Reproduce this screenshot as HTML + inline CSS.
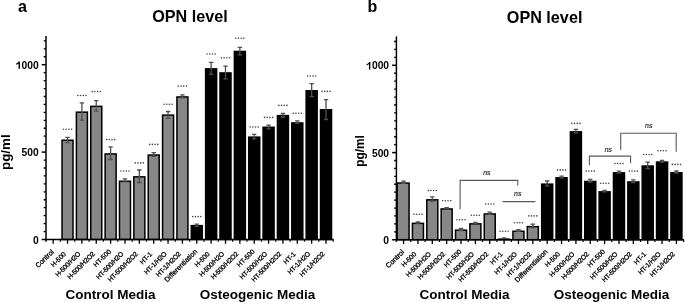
<!DOCTYPE html>
<html><head><meta charset="utf-8"><title>OPN level</title>
<style>html,body{margin:0;padding:0;background:#fff;}body{width:685px;height:302px;overflow:hidden;}
svg{display:block;will-change:transform;filter:blur(0.3px);font-family:"Liberation Sans", sans-serif;}</style></head>
<body>
<svg width="685" height="302" viewBox="0 0 685 302" font-family='"Liberation Sans", sans-serif' fill="#000">
<rect width="685" height="302" fill="#fff"/>
<rect x="62.04" y="140.25" width="11" height="99.25" fill="#878787" stroke="#000" stroke-width="1.5"/>
<path d="M67.54 137.4V142.6M65.34 137.4H69.74M65.34 142.6H69.74" stroke="#4f4f4f" stroke-width="1.3" fill="none"/>
<circle cx="63.49" cy="129.2" r="0.8" fill="#444"/>
<circle cx="66.19" cy="129.2" r="0.8" fill="#444"/>
<circle cx="68.89" cy="129.2" r="0.8" fill="#444"/>
<circle cx="71.59" cy="129.2" r="0.8" fill="#444"/>
<rect x="76.4" y="112.15" width="11" height="127.35" fill="#878787" stroke="#000" stroke-width="1.5"/>
<path d="M81.9 102.8V120.1M79.7 102.8H84.1M79.7 120.1H84.1" stroke="#4f4f4f" stroke-width="1.3" fill="none"/>
<circle cx="77.85" cy="95.5" r="0.8" fill="#444"/>
<circle cx="80.55" cy="95.5" r="0.8" fill="#444"/>
<circle cx="83.25" cy="95.5" r="0.8" fill="#444"/>
<circle cx="85.95" cy="95.5" r="0.8" fill="#444"/>
<rect x="90.76" y="106.35" width="11" height="133.15" fill="#878787" stroke="#000" stroke-width="1.5"/>
<path d="M96.26 100.7V111.1M94.06 100.7H98.46M94.06 111.1H98.46" stroke="#4f4f4f" stroke-width="1.3" fill="none"/>
<circle cx="92.21" cy="91.6" r="0.8" fill="#444"/>
<circle cx="94.91" cy="91.6" r="0.8" fill="#444"/>
<circle cx="97.61" cy="91.6" r="0.8" fill="#444"/>
<circle cx="100.31" cy="91.6" r="0.8" fill="#444"/>
<rect x="105.12" y="153.95" width="11" height="85.55" fill="#878787" stroke="#000" stroke-width="1.5"/>
<path d="M110.62 146.9V159.5M108.42 146.9H112.82M108.42 159.5H112.82" stroke="#4f4f4f" stroke-width="1.3" fill="none"/>
<circle cx="106.57" cy="139.6" r="0.8" fill="#444"/>
<circle cx="109.27" cy="139.6" r="0.8" fill="#444"/>
<circle cx="111.97" cy="139.6" r="0.8" fill="#444"/>
<circle cx="114.67" cy="139.6" r="0.8" fill="#444"/>
<rect x="119.48" y="181.25" width="11" height="58.25" fill="#878787" stroke="#000" stroke-width="1.5"/>
<path d="M124.98 178.9V181.8M122.78 178.9H127.18M122.78 181.8H127.18" stroke="#4f4f4f" stroke-width="1.3" fill="none"/>
<circle cx="120.93" cy="171" r="0.8" fill="#444"/>
<circle cx="123.63" cy="171" r="0.8" fill="#444"/>
<circle cx="126.33" cy="171" r="0.8" fill="#444"/>
<circle cx="129.03" cy="171" r="0.8" fill="#444"/>
<rect x="133.84" y="176.85" width="11" height="62.65" fill="#878787" stroke="#000" stroke-width="1.5"/>
<path d="M139.34 170V182.5M137.14 170H141.54M137.14 182.5H141.54" stroke="#4f4f4f" stroke-width="1.3" fill="none"/>
<circle cx="135.29" cy="162.9" r="0.8" fill="#444"/>
<circle cx="137.99" cy="162.9" r="0.8" fill="#444"/>
<circle cx="140.69" cy="162.9" r="0.8" fill="#444"/>
<circle cx="143.39" cy="162.9" r="0.8" fill="#444"/>
<rect x="148.2" y="155.05" width="11" height="84.45" fill="#878787" stroke="#000" stroke-width="1.5"/>
<path d="M153.7 152.7V156.4M151.5 152.7H155.9M151.5 156.4H155.9" stroke="#4f4f4f" stroke-width="1.3" fill="none"/>
<circle cx="149.65" cy="144.4" r="0.8" fill="#444"/>
<circle cx="152.35" cy="144.4" r="0.8" fill="#444"/>
<circle cx="155.05" cy="144.4" r="0.8" fill="#444"/>
<circle cx="157.75" cy="144.4" r="0.8" fill="#444"/>
<rect x="162.56" y="115.15" width="11" height="124.35" fill="#878787" stroke="#000" stroke-width="1.5"/>
<path d="M168.06 111.5V118.4M165.86 111.5H170.26M165.86 118.4H170.26" stroke="#4f4f4f" stroke-width="1.3" fill="none"/>
<circle cx="164.01" cy="104.3" r="0.8" fill="#444"/>
<circle cx="166.71" cy="104.3" r="0.8" fill="#444"/>
<circle cx="169.41" cy="104.3" r="0.8" fill="#444"/>
<circle cx="172.11" cy="104.3" r="0.8" fill="#444"/>
<rect x="176.92" y="96.95" width="11" height="142.55" fill="#878787" stroke="#000" stroke-width="1.5"/>
<path d="M182.42 94.9V97.9M180.22 94.9H184.62M180.22 97.9H184.62" stroke="#4f4f4f" stroke-width="1.3" fill="none"/>
<circle cx="178.37" cy="86.1" r="0.8" fill="#444"/>
<circle cx="181.07" cy="86.1" r="0.8" fill="#444"/>
<circle cx="183.77" cy="86.1" r="0.8" fill="#444"/>
<circle cx="186.47" cy="86.1" r="0.8" fill="#444"/>
<rect x="191.28" y="225.65" width="11" height="13.85" fill="#000" stroke="#000" stroke-width="1.5"/>
<path d="M196.78 224.1V226.4M194.58 224.1H198.98M194.58 226.4H198.98" stroke="#4f4f4f" stroke-width="1.3" fill="none"/>
<circle cx="192.73" cy="216.6" r="0.8" fill="#444"/>
<circle cx="195.43" cy="216.6" r="0.8" fill="#444"/>
<circle cx="198.13" cy="216.6" r="0.8" fill="#444"/>
<circle cx="200.83" cy="216.6" r="0.8" fill="#444"/>
<rect x="205.64" y="68.85" width="11" height="170.65" fill="#000" stroke="#000" stroke-width="1.5"/>
<path d="M211.14 62.3V74.4M208.94 62.3H213.34M208.94 74.4H213.34" stroke="#4f4f4f" stroke-width="1.3" fill="none"/>
<circle cx="207.09" cy="54" r="0.8" fill="#444"/>
<circle cx="209.79" cy="54" r="0.8" fill="#444"/>
<circle cx="212.49" cy="54" r="0.8" fill="#444"/>
<circle cx="215.19" cy="54" r="0.8" fill="#444"/>
<rect x="220" y="72.95" width="11" height="166.55" fill="#000" stroke="#000" stroke-width="1.5"/>
<path d="M225.5 66.1V78.8M223.3 66.1H227.7M223.3 78.8H227.7" stroke="#4f4f4f" stroke-width="1.3" fill="none"/>
<circle cx="221.45" cy="57.8" r="0.8" fill="#444"/>
<circle cx="224.15" cy="57.8" r="0.8" fill="#444"/>
<circle cx="226.85" cy="57.8" r="0.8" fill="#444"/>
<circle cx="229.55" cy="57.8" r="0.8" fill="#444"/>
<rect x="234.36" y="51.45" width="11" height="188.05" fill="#000" stroke="#000" stroke-width="1.5"/>
<path d="M239.86 47.4V54.8M237.66 47.4H242.06M237.66 54.8H242.06" stroke="#4f4f4f" stroke-width="1.3" fill="none"/>
<circle cx="235.81" cy="38.3" r="0.8" fill="#444"/>
<circle cx="238.51" cy="38.3" r="0.8" fill="#444"/>
<circle cx="241.21" cy="38.3" r="0.8" fill="#444"/>
<circle cx="243.91" cy="38.3" r="0.8" fill="#444"/>
<rect x="248.72" y="137.15" width="11" height="102.35" fill="#000" stroke="#000" stroke-width="1.5"/>
<path d="M254.22 134.4V138.9M252.02 134.4H256.42M252.02 138.9H256.42" stroke="#4f4f4f" stroke-width="1.3" fill="none"/>
<circle cx="250.17" cy="127" r="0.8" fill="#444"/>
<circle cx="252.87" cy="127" r="0.8" fill="#444"/>
<circle cx="255.57" cy="127" r="0.8" fill="#444"/>
<circle cx="258.27" cy="127" r="0.8" fill="#444"/>
<rect x="263.08" y="127.25" width="11" height="112.25" fill="#000" stroke="#000" stroke-width="1.5"/>
<path d="M268.58 125.1V128.9M266.38 125.1H270.78M266.38 128.9H270.78" stroke="#4f4f4f" stroke-width="1.3" fill="none"/>
<circle cx="264.53" cy="117.4" r="0.8" fill="#444"/>
<circle cx="267.23" cy="117.4" r="0.8" fill="#444"/>
<circle cx="269.93" cy="117.4" r="0.8" fill="#444"/>
<circle cx="272.63" cy="117.4" r="0.8" fill="#444"/>
<rect x="277.44" y="115.65" width="11" height="123.85" fill="#000" stroke="#000" stroke-width="1.5"/>
<path d="M282.94 113.5V117M280.74 113.5H285.14M280.74 117H285.14" stroke="#4f4f4f" stroke-width="1.3" fill="none"/>
<circle cx="278.89" cy="105.4" r="0.8" fill="#444"/>
<circle cx="281.59" cy="105.4" r="0.8" fill="#444"/>
<circle cx="284.29" cy="105.4" r="0.8" fill="#444"/>
<circle cx="286.99" cy="105.4" r="0.8" fill="#444"/>
<rect x="291.8" y="122.95" width="11" height="116.55" fill="#000" stroke="#000" stroke-width="1.5"/>
<path d="M297.3 120.8V123.2M295.1 120.8H299.5M295.1 123.2H299.5" stroke="#4f4f4f" stroke-width="1.3" fill="none"/>
<circle cx="293.25" cy="113.3" r="0.8" fill="#444"/>
<circle cx="295.95" cy="113.3" r="0.8" fill="#444"/>
<circle cx="298.65" cy="113.3" r="0.8" fill="#444"/>
<circle cx="301.35" cy="113.3" r="0.8" fill="#444"/>
<rect x="306.16" y="90.75" width="11" height="148.75" fill="#000" stroke="#000" stroke-width="1.5"/>
<path d="M311.66 83.6V96.6M309.46 83.6H313.86M309.46 96.6H313.86" stroke="#4f4f4f" stroke-width="1.3" fill="none"/>
<circle cx="307.61" cy="76" r="0.8" fill="#444"/>
<circle cx="310.31" cy="76" r="0.8" fill="#444"/>
<circle cx="313.01" cy="76" r="0.8" fill="#444"/>
<circle cx="315.71" cy="76" r="0.8" fill="#444"/>
<rect x="320.52" y="109.75" width="11" height="129.75" fill="#000" stroke="#000" stroke-width="1.5"/>
<path d="M326.02 99.6V119.5M323.82 99.6H328.22M323.82 119.5H328.22" stroke="#4f4f4f" stroke-width="1.3" fill="none"/>
<circle cx="321.97" cy="91.4" r="0.8" fill="#444"/>
<circle cx="324.67" cy="91.4" r="0.8" fill="#444"/>
<circle cx="327.37" cy="91.4" r="0.8" fill="#444"/>
<circle cx="330.07" cy="91.4" r="0.8" fill="#444"/>
<path d="M46 36V241.7" stroke="#000" stroke-width="1.5" fill="none"/>
<path d="M41.7 239.5H333.6" stroke="#000" stroke-width="1.5" fill="none"/>
<path d="M41.7 152.1H46" stroke="#000" stroke-width="1.5"/>
<path d="M41.7 64.7H46" stroke="#000" stroke-width="1.5"/>
<path d="M43.7 231.55H46M43.7 144.15H46M43.7 223.61H46M43.7 136.21H46M43.7 215.66H46M43.7 128.26H46M43.7 207.72H46M43.7 120.32H46M43.7 199.77H46M43.7 112.37H46M43.7 191.83H46M43.7 104.43H46M43.7 183.88H46M43.7 96.48H46M43.7 175.94H46M43.7 88.54H46M43.7 167.99H46M43.7 80.59H46M43.7 160.05H46M43.7 72.65H46M43.7 56.75H46M43.7 48.81H46M43.7 40.86H46" stroke="#000" stroke-width="1.3"/>
<path d="M53.18 239.5V243.7M60.36 239.5V241.7M67.54 239.5V243.7M74.72 239.5V241.7M81.9 239.5V243.7M89.08 239.5V241.7M96.26 239.5V243.7M103.44 239.5V241.7M110.62 239.5V243.7M117.8 239.5V241.7M124.98 239.5V243.7M132.16 239.5V241.7M139.34 239.5V243.7M146.52 239.5V241.7M153.7 239.5V243.7M160.88 239.5V241.7M168.06 239.5V243.7M175.24 239.5V241.7M182.42 239.5V243.7M189.6 239.5V241.7M196.78 239.5V243.7M203.96 239.5V241.7M211.14 239.5V243.7M218.32 239.5V241.7M225.5 239.5V243.7M232.68 239.5V241.7M239.86 239.5V243.7M247.04 239.5V241.7M254.22 239.5V243.7M261.4 239.5V241.7M268.58 239.5V243.7M275.76 239.5V241.7M282.94 239.5V243.7M290.12 239.5V241.7M297.3 239.5V243.7M304.48 239.5V241.7M311.66 239.5V243.7M318.84 239.5V241.7M326.02 239.5V243.7M333.2 239.5V241.7" stroke="#000" stroke-width="1.3"/>
<text x="38.7" y="243.6" text-anchor="end" font-size="10.3" font-weight="bold">0</text>
<text x="38.7" y="156.2" text-anchor="end" font-size="10.3" font-weight="bold">500</text>
<text x="38.7" y="68.8" text-anchor="end" font-size="10.3" font-weight="bold">000</text>
<path d="M19.96 68.8 18.55 68.8 18.55 63.49 18 63.96 17.13 64.47 16.22 64.78 16.22 63.51 17.23 63.03 18.16 62.31 18.77 61.43 19.96 61.43Z"/>
<text x="54.28" y="252.3" text-anchor="end" font-size="7.05" stroke="#000" stroke-width="0.3" transform="rotate(-45 54.28 252.3)">Control</text>
<text x="66.49" y="254.5" text-anchor="end" font-size="6.7" stroke="#000" stroke-width="0.3" transform="rotate(-45 66.49 254.5)">H-500</text>
<text x="80.85" y="254.5" text-anchor="end" font-size="6.7" stroke="#000" stroke-width="0.3" letter-spacing="-0.18" transform="rotate(-45 80.85 254.5)">H-500/H2O</text>
<text x="95.21" y="254.5" text-anchor="end" font-size="6.7" stroke="#000" stroke-width="0.3" letter-spacing="-0.18" transform="rotate(-45 95.21 254.5)">H-500/H2O2</text>
<text x="111.52" y="252" text-anchor="end" font-size="6.7" stroke="#000" stroke-width="0.3" transform="rotate(-45 111.52 252)">HT-500</text>
<text x="123.93" y="254.5" text-anchor="end" font-size="6.7" stroke="#000" stroke-width="0.3" letter-spacing="-0.18" transform="rotate(-45 123.93 254.5)">HT-500/H2O</text>
<text x="138.29" y="254.5" text-anchor="end" font-size="6.7" stroke="#000" stroke-width="0.3" letter-spacing="-0.18" transform="rotate(-45 138.29 254.5)">HT-500/H2O2</text>
<text x="152.65" y="254.5" text-anchor="end" font-size="6.7" stroke="#000" stroke-width="0.3" transform="rotate(-45 152.65 254.5)">HT-1</text>
<text x="167.01" y="254.5" text-anchor="end" font-size="6.7" stroke="#000" stroke-width="0.3" letter-spacing="-0.18" transform="rotate(-45 167.01 254.5)">HT-1/H2O</text>
<text x="181.37" y="254.5" text-anchor="end" font-size="6.7" stroke="#000" stroke-width="0.3" letter-spacing="-0.18" transform="rotate(-45 181.37 254.5)">HT-1/H2O2</text>
<text x="197.68" y="252" text-anchor="end" font-size="7" stroke="#000" stroke-width="0.3" transform="rotate(-45 197.68 252)">Differentiation</text>
<text x="210.09" y="254.5" text-anchor="end" font-size="6.7" stroke="#000" stroke-width="0.3" transform="rotate(-45 210.09 254.5)">H-500</text>
<text x="224.45" y="254.5" text-anchor="end" font-size="6.7" stroke="#000" stroke-width="0.3" letter-spacing="-0.18" transform="rotate(-45 224.45 254.5)">H-500/H2O</text>
<text x="238.81" y="254.5" text-anchor="end" font-size="6.7" stroke="#000" stroke-width="0.3" letter-spacing="-0.18" transform="rotate(-45 238.81 254.5)">H-500/H2O2</text>
<text x="255.12" y="252" text-anchor="end" font-size="6.7" stroke="#000" stroke-width="0.3" transform="rotate(-45 255.12 252)">HT-500</text>
<text x="267.53" y="254.5" text-anchor="end" font-size="6.7" stroke="#000" stroke-width="0.3" letter-spacing="-0.18" transform="rotate(-45 267.53 254.5)">HT-500/H2O</text>
<text x="281.89" y="254.5" text-anchor="end" font-size="6.7" stroke="#000" stroke-width="0.3" letter-spacing="-0.18" transform="rotate(-45 281.89 254.5)">HT-500/H2O2</text>
<text x="296.25" y="254.5" text-anchor="end" font-size="6.7" stroke="#000" stroke-width="0.3" transform="rotate(-45 296.25 254.5)">HT-1</text>
<text x="310.61" y="254.5" text-anchor="end" font-size="6.7" stroke="#000" stroke-width="0.3" letter-spacing="-0.18" transform="rotate(-45 310.61 254.5)">HT-1/H2O</text>
<text x="324.97" y="254.5" text-anchor="end" font-size="6.7" stroke="#000" stroke-width="0.3" letter-spacing="-0.18" transform="rotate(-45 324.97 254.5)">HT-1/H2O2</text>
<rect x="397.15" y="183.05" width="11.93" height="56.65" fill="#878787" stroke="#000" stroke-width="1.5"/>
<path d="M403.58 181.2V183.4M401.38 181.2H405.78M401.38 183.4H405.78" stroke="#4f4f4f" stroke-width="1.3" fill="none"/>
<rect x="412.44" y="223.35" width="11" height="16.35" fill="#878787" stroke="#000" stroke-width="1.5"/>
<path d="M417.94 222V223.2M415.74 222H420.14M415.74 223.2H420.14" stroke="#4f4f4f" stroke-width="1.3" fill="none"/>
<circle cx="413.89" cy="214.3" r="0.8" fill="#444"/>
<circle cx="416.59" cy="214.3" r="0.8" fill="#444"/>
<circle cx="419.29" cy="214.3" r="0.8" fill="#444"/>
<circle cx="421.99" cy="214.3" r="0.8" fill="#444"/>
<rect x="426.8" y="199.85" width="11" height="39.85" fill="#878787" stroke="#000" stroke-width="1.5"/>
<path d="M432.3 196.9V201.3M430.1 196.9H434.5M430.1 201.3H434.5" stroke="#4f4f4f" stroke-width="1.3" fill="none"/>
<circle cx="428.25" cy="190.5" r="0.8" fill="#444"/>
<circle cx="430.95" cy="190.5" r="0.8" fill="#444"/>
<circle cx="433.65" cy="190.5" r="0.8" fill="#444"/>
<circle cx="436.35" cy="190.5" r="0.8" fill="#444"/>
<rect x="441.16" y="208.95" width="11" height="30.75" fill="#878787" stroke="#000" stroke-width="1.5"/>
<path d="M446.66 207.6V208.8M444.46 207.6H448.86M444.46 208.8H448.86" stroke="#4f4f4f" stroke-width="1.3" fill="none"/>
<circle cx="442.61" cy="200.7" r="0.8" fill="#444"/>
<circle cx="445.31" cy="200.7" r="0.8" fill="#444"/>
<circle cx="448.01" cy="200.7" r="0.8" fill="#444"/>
<circle cx="450.71" cy="200.7" r="0.8" fill="#444"/>
<rect x="455.52" y="230.15" width="11" height="9.55" fill="#878787" stroke="#000" stroke-width="1.5"/>
<path d="M461.02 228.3V230.5M458.82 228.3H463.22M458.82 230.5H463.22" stroke="#4f4f4f" stroke-width="1.3" fill="none"/>
<circle cx="456.97" cy="219.8" r="0.8" fill="#444"/>
<circle cx="459.67" cy="219.8" r="0.8" fill="#444"/>
<circle cx="462.37" cy="219.8" r="0.8" fill="#444"/>
<circle cx="465.07" cy="219.8" r="0.8" fill="#444"/>
<rect x="469.88" y="223.85" width="11" height="15.85" fill="#878787" stroke="#000" stroke-width="1.5"/>
<path d="M475.38 222.5V223.7M473.18 222.5H477.58M473.18 223.7H477.58" stroke="#4f4f4f" stroke-width="1.3" fill="none"/>
<circle cx="471.33" cy="215.3" r="0.8" fill="#444"/>
<circle cx="474.03" cy="215.3" r="0.8" fill="#444"/>
<circle cx="476.73" cy="215.3" r="0.8" fill="#444"/>
<circle cx="479.43" cy="215.3" r="0.8" fill="#444"/>
<rect x="484.24" y="213.95" width="11" height="25.75" fill="#878787" stroke="#000" stroke-width="1.5"/>
<path d="M489.74 212.2V214.2M487.54 212.2H491.94M487.54 214.2H491.94" stroke="#4f4f4f" stroke-width="1.3" fill="none"/>
<circle cx="485.69" cy="204" r="0.8" fill="#444"/>
<circle cx="488.39" cy="204" r="0.8" fill="#444"/>
<circle cx="491.09" cy="204" r="0.8" fill="#444"/>
<circle cx="493.79" cy="204" r="0.8" fill="#444"/>
<rect x="498.6" y="239.15" width="11" height="0.55" fill="#878787" stroke="#000" stroke-width="1.5"/>
<path d="M504.1 237.9V238.9M501.9 237.9H506.3M501.9 238.9H506.3" stroke="#4f4f4f" stroke-width="1.3" fill="none"/>
<circle cx="500.05" cy="231.3" r="0.8" fill="#444"/>
<circle cx="502.75" cy="231.3" r="0.8" fill="#444"/>
<circle cx="505.45" cy="231.3" r="0.8" fill="#444"/>
<circle cx="508.15" cy="231.3" r="0.8" fill="#444"/>
<rect x="512.96" y="231.25" width="11" height="8.45" fill="#878787" stroke="#000" stroke-width="1.5"/>
<path d="M518.46 229.6V231.4M516.26 229.6H520.66M516.26 231.4H520.66" stroke="#4f4f4f" stroke-width="1.3" fill="none"/>
<circle cx="514.41" cy="222.8" r="0.8" fill="#444"/>
<circle cx="517.11" cy="222.8" r="0.8" fill="#444"/>
<circle cx="519.81" cy="222.8" r="0.8" fill="#444"/>
<circle cx="522.51" cy="222.8" r="0.8" fill="#444"/>
<rect x="527.32" y="226.65" width="11" height="13.05" fill="#878787" stroke="#000" stroke-width="1.5"/>
<path d="M532.82 224.1V227.7M530.62 224.1H535.02M530.62 227.7H535.02" stroke="#4f4f4f" stroke-width="1.3" fill="none"/>
<circle cx="528.77" cy="215.9" r="0.8" fill="#444"/>
<circle cx="531.47" cy="215.9" r="0.8" fill="#444"/>
<circle cx="534.17" cy="215.9" r="0.8" fill="#444"/>
<circle cx="536.87" cy="215.9" r="0.8" fill="#444"/>
<rect x="541.68" y="184.15" width="11" height="55.55" fill="#000" stroke="#000" stroke-width="1.5"/>
<path d="M547.18 181V185.8M544.98 181H549.38M544.98 185.8H549.38" stroke="#4f4f4f" stroke-width="1.3" fill="none"/>
<rect x="556.04" y="177.75" width="11" height="61.95" fill="#000" stroke="#000" stroke-width="1.5"/>
<path d="M561.54 176.2V177.8M559.34 176.2H563.74M559.34 177.8H563.74" stroke="#4f4f4f" stroke-width="1.3" fill="none"/>
<circle cx="557.49" cy="169.9" r="0.8" fill="#444"/>
<circle cx="560.19" cy="169.9" r="0.8" fill="#444"/>
<circle cx="562.89" cy="169.9" r="0.8" fill="#444"/>
<circle cx="565.59" cy="169.9" r="0.8" fill="#444"/>
<rect x="570.4" y="131.85" width="11" height="107.85" fill="#000" stroke="#000" stroke-width="1.5"/>
<path d="M575.9 129.4V132.8M573.7 129.4H578.1M573.7 132.8H578.1" stroke="#4f4f4f" stroke-width="1.3" fill="none"/>
<circle cx="571.85" cy="123.4" r="0.8" fill="#444"/>
<circle cx="574.55" cy="123.4" r="0.8" fill="#444"/>
<circle cx="577.25" cy="123.4" r="0.8" fill="#444"/>
<circle cx="579.95" cy="123.4" r="0.8" fill="#444"/>
<rect x="584.76" y="181.45" width="11" height="58.25" fill="#000" stroke="#000" stroke-width="1.5"/>
<path d="M590.26 179.4V182M588.06 179.4H592.46M588.06 182H592.46" stroke="#4f4f4f" stroke-width="1.3" fill="none"/>
<circle cx="586.21" cy="171.1" r="0.8" fill="#444"/>
<circle cx="588.91" cy="171.1" r="0.8" fill="#444"/>
<circle cx="591.61" cy="171.1" r="0.8" fill="#444"/>
<circle cx="594.31" cy="171.1" r="0.8" fill="#444"/>
<rect x="599.12" y="191.85" width="11" height="47.85" fill="#000" stroke="#000" stroke-width="1.5"/>
<path d="M604.62 190.3V191.9M602.42 190.3H606.82M602.42 191.9H606.82" stroke="#4f4f4f" stroke-width="1.3" fill="none"/>
<circle cx="600.57" cy="183.2" r="0.8" fill="#444"/>
<circle cx="603.27" cy="183.2" r="0.8" fill="#444"/>
<circle cx="605.97" cy="183.2" r="0.8" fill="#444"/>
<circle cx="608.67" cy="183.2" r="0.8" fill="#444"/>
<rect x="613.48" y="172.85" width="11" height="66.85" fill="#000" stroke="#000" stroke-width="1.5"/>
<path d="M618.98 171.2V173M616.78 171.2H621.18M616.78 173H621.18" stroke="#4f4f4f" stroke-width="1.3" fill="none"/>
<circle cx="614.93" cy="163.6" r="0.8" fill="#444"/>
<circle cx="617.63" cy="163.6" r="0.8" fill="#444"/>
<circle cx="620.33" cy="163.6" r="0.8" fill="#444"/>
<circle cx="623.03" cy="163.6" r="0.8" fill="#444"/>
<rect x="627.84" y="181.95" width="11" height="57.75" fill="#000" stroke="#000" stroke-width="1.5"/>
<path d="M633.34 179.9V182.5M631.14 179.9H635.54M631.14 182.5H635.54" stroke="#4f4f4f" stroke-width="1.3" fill="none"/>
<circle cx="629.29" cy="171.1" r="0.8" fill="#444"/>
<circle cx="631.99" cy="171.1" r="0.8" fill="#444"/>
<circle cx="634.69" cy="171.1" r="0.8" fill="#444"/>
<circle cx="637.39" cy="171.1" r="0.8" fill="#444"/>
<rect x="642.2" y="166.05" width="11" height="73.65" fill="#000" stroke="#000" stroke-width="1.5"/>
<path d="M647.7 162.1V168.5M645.5 162.1H649.9M645.5 168.5H649.9" stroke="#4f4f4f" stroke-width="1.3" fill="none"/>
<circle cx="643.65" cy="154.5" r="0.8" fill="#444"/>
<circle cx="646.35" cy="154.5" r="0.8" fill="#444"/>
<circle cx="649.05" cy="154.5" r="0.8" fill="#444"/>
<circle cx="651.75" cy="154.5" r="0.8" fill="#444"/>
<rect x="656.56" y="162.05" width="11" height="77.65" fill="#000" stroke="#000" stroke-width="1.5"/>
<path d="M662.06 160.4V162.2M659.86 160.4H664.26M659.86 162.2H664.26" stroke="#4f4f4f" stroke-width="1.3" fill="none"/>
<circle cx="658.01" cy="150.8" r="0.8" fill="#444"/>
<circle cx="660.71" cy="150.8" r="0.8" fill="#444"/>
<circle cx="663.41" cy="150.8" r="0.8" fill="#444"/>
<circle cx="666.11" cy="150.8" r="0.8" fill="#444"/>
<rect x="670.92" y="172.75" width="11" height="66.95" fill="#000" stroke="#000" stroke-width="1.5"/>
<path d="M676.42 171V173M674.22 171H678.62M674.22 173H678.62" stroke="#4f4f4f" stroke-width="1.3" fill="none"/>
<circle cx="672.37" cy="164.4" r="0.8" fill="#444"/>
<circle cx="675.07" cy="164.4" r="0.8" fill="#444"/>
<circle cx="677.77" cy="164.4" r="0.8" fill="#444"/>
<circle cx="680.47" cy="164.4" r="0.8" fill="#444"/>
<path d="M396.4 36.4V241.9" stroke="#000" stroke-width="1.5" fill="none"/>
<path d="M392.1 239.7H684" stroke="#000" stroke-width="1.5" fill="none"/>
<path d="M392.1 152.6H396.4" stroke="#000" stroke-width="1.5"/>
<path d="M392.1 65.3H396.4" stroke="#000" stroke-width="1.5"/>
<path d="M394.1 231.78H396.4M394.1 144.66H396.4M394.1 223.86H396.4M394.1 136.73H396.4M394.1 215.95H396.4M394.1 128.79H396.4M394.1 208.03H396.4M394.1 120.85H396.4M394.1 200.11H396.4M394.1 112.92H396.4M394.1 192.19H396.4M394.1 104.98H396.4M394.1 184.27H396.4M394.1 97.05H396.4M394.1 176.35H396.4M394.1 89.11H396.4M394.1 168.44H396.4M394.1 81.17H396.4M394.1 160.52H396.4M394.1 73.24H396.4M394.1 57.36H396.4M394.1 49.43H396.4M394.1 41.49H396.4" stroke="#000" stroke-width="1.3"/>
<path d="M403.58 239.7V243.9M410.76 239.7V241.9M417.94 239.7V243.9M425.12 239.7V241.9M432.3 239.7V243.9M439.48 239.7V241.9M446.66 239.7V243.9M453.84 239.7V241.9M461.02 239.7V243.9M468.2 239.7V241.9M475.38 239.7V243.9M482.56 239.7V241.9M489.74 239.7V243.9M496.92 239.7V241.9M504.1 239.7V243.9M511.28 239.7V241.9M518.46 239.7V243.9M525.64 239.7V241.9M532.82 239.7V243.9M540 239.7V241.9M547.18 239.7V243.9M554.36 239.7V241.9M561.54 239.7V243.9M568.72 239.7V241.9M575.9 239.7V243.9M583.08 239.7V241.9M590.26 239.7V243.9M597.44 239.7V241.9M604.62 239.7V243.9M611.8 239.7V241.9M618.98 239.7V243.9M626.16 239.7V241.9M633.34 239.7V243.9M640.52 239.7V241.9M647.7 239.7V243.9M654.88 239.7V241.9M662.06 239.7V243.9M669.24 239.7V241.9M676.42 239.7V243.9M683.6 239.7V241.9" stroke="#000" stroke-width="1.3"/>
<text x="389.1" y="243.8" text-anchor="end" font-size="10.3" font-weight="bold">0</text>
<text x="389.1" y="156.7" text-anchor="end" font-size="10.3" font-weight="bold">500</text>
<text x="389.1" y="69.4" text-anchor="end" font-size="10.3" font-weight="bold">000</text>
<path d="M370.36 69.4 368.95 69.4 368.95 64.09 368.4 64.56 367.53 65.07 366.62 65.38 366.62 64.11 367.63 63.63 368.56 62.91 369.17 62.03 370.36 62.03Z"/>
<text x="404.68" y="252.5" text-anchor="end" font-size="7.05" stroke="#000" stroke-width="0.3" transform="rotate(-45 404.68 252.5)">Control</text>
<text x="416.89" y="254.7" text-anchor="end" font-size="6.7" stroke="#000" stroke-width="0.3" transform="rotate(-45 416.89 254.7)">H-500</text>
<text x="431.25" y="254.7" text-anchor="end" font-size="6.7" stroke="#000" stroke-width="0.3" letter-spacing="-0.18" transform="rotate(-45 431.25 254.7)">H-500/H2O</text>
<text x="445.61" y="254.7" text-anchor="end" font-size="6.7" stroke="#000" stroke-width="0.3" letter-spacing="-0.18" transform="rotate(-45 445.61 254.7)">H-500/H2O2</text>
<text x="461.92" y="252.2" text-anchor="end" font-size="6.7" stroke="#000" stroke-width="0.3" transform="rotate(-45 461.92 252.2)">HT-500</text>
<text x="474.33" y="254.7" text-anchor="end" font-size="6.7" stroke="#000" stroke-width="0.3" letter-spacing="-0.18" transform="rotate(-45 474.33 254.7)">HT-500/H2O</text>
<text x="488.69" y="254.7" text-anchor="end" font-size="6.7" stroke="#000" stroke-width="0.3" letter-spacing="-0.18" transform="rotate(-45 488.69 254.7)">HT-500/H2O2</text>
<text x="503.05" y="254.7" text-anchor="end" font-size="6.7" stroke="#000" stroke-width="0.3" transform="rotate(-45 503.05 254.7)">HT-1</text>
<text x="517.41" y="254.7" text-anchor="end" font-size="6.7" stroke="#000" stroke-width="0.3" letter-spacing="-0.18" transform="rotate(-45 517.41 254.7)">HT-1/H2O</text>
<text x="531.77" y="254.7" text-anchor="end" font-size="6.7" stroke="#000" stroke-width="0.3" letter-spacing="-0.18" transform="rotate(-45 531.77 254.7)">HT-1/H2O2</text>
<text x="548.08" y="252.2" text-anchor="end" font-size="7" stroke="#000" stroke-width="0.3" transform="rotate(-45 548.08 252.2)">Differentiation</text>
<text x="560.49" y="254.7" text-anchor="end" font-size="6.7" stroke="#000" stroke-width="0.3" transform="rotate(-45 560.49 254.7)">H-500</text>
<text x="574.85" y="254.7" text-anchor="end" font-size="6.7" stroke="#000" stroke-width="0.3" letter-spacing="-0.18" transform="rotate(-45 574.85 254.7)">H-500/H2O</text>
<text x="589.21" y="254.7" text-anchor="end" font-size="6.7" stroke="#000" stroke-width="0.3" letter-spacing="-0.18" transform="rotate(-45 589.21 254.7)">H-500/H2O2</text>
<text x="605.52" y="252.2" text-anchor="end" font-size="6.7" stroke="#000" stroke-width="0.3" transform="rotate(-45 605.52 252.2)">HT-500</text>
<text x="617.93" y="254.7" text-anchor="end" font-size="6.7" stroke="#000" stroke-width="0.3" letter-spacing="-0.18" transform="rotate(-45 617.93 254.7)">HT-500/H2O</text>
<text x="632.29" y="254.7" text-anchor="end" font-size="6.7" stroke="#000" stroke-width="0.3" letter-spacing="-0.18" transform="rotate(-45 632.29 254.7)">HT-500/H2O2</text>
<text x="646.65" y="254.7" text-anchor="end" font-size="6.7" stroke="#000" stroke-width="0.3" transform="rotate(-45 646.65 254.7)">HT-1</text>
<text x="661.01" y="254.7" text-anchor="end" font-size="6.7" stroke="#000" stroke-width="0.3" letter-spacing="-0.18" transform="rotate(-45 661.01 254.7)">HT-1/H2O</text>
<text x="675.37" y="254.7" text-anchor="end" font-size="6.7" stroke="#000" stroke-width="0.3" letter-spacing="-0.18" transform="rotate(-45 675.37 254.7)">HT-1/H2O2</text>
<path d="M460.1 209.2V180.4H517.8V185.5M502.6 201.6H535.4M589.4 165.3V156.1H630.6V163.3M620.7 149.9V133.2H676.2V151.8" stroke="#5a5a5a" stroke-width="1.1" fill="none"/>
<text x="486.9" y="175" text-anchor="middle" font-size="6.9" font-style="italic" fill="#222" stroke="#222" stroke-width="0.15">ns</text>
<text x="517.7" y="196.2" text-anchor="middle" font-size="6.9" font-style="italic" fill="#222" stroke="#222" stroke-width="0.15">ns</text>
<text x="608.4" y="151.7" text-anchor="middle" font-size="6.9" font-style="italic" fill="#222" stroke="#222" stroke-width="0.15">ns</text>
<text x="648.7" y="128.3" text-anchor="middle" font-size="6.9" font-style="italic" fill="#222" stroke="#222" stroke-width="0.15">ns</text>
<text x="18" y="11.9" font-size="16" font-weight="bold">a</text>
<text x="367.6" y="11.9" font-size="16" font-weight="bold">b</text>
<text x="190" y="21.6" text-anchor="middle" font-size="16.2" font-weight="bold">OPN level</text>
<text x="544.6" y="22.6" text-anchor="middle" font-size="16.2" font-weight="bold">OPN level</text>
<text x="0" y="0" text-anchor="middle" font-size="13" font-weight="bold" transform="translate(9.9 152.2) rotate(-90) scale(1.03 0.93)">pg/ml</text>
<text x="0" y="0" text-anchor="middle" font-size="11.9" font-weight="bold" transform="translate(363.9 151.0) rotate(-90)">pg/ml</text>
<text x="110.5" y="299" text-anchor="middle" font-size="13.5" font-weight="bold">Control Media</text>
<text x="257.4" y="299" text-anchor="middle" font-size="13.5" font-weight="bold">Osteogenic Media</text>
<text x="464.6" y="299" text-anchor="middle" font-size="13.5" font-weight="bold">Control Media</text>
<text x="611.5" y="299" text-anchor="middle" font-size="13.5" font-weight="bold">Osteogenic Media</text>
</svg>
</body></html>
